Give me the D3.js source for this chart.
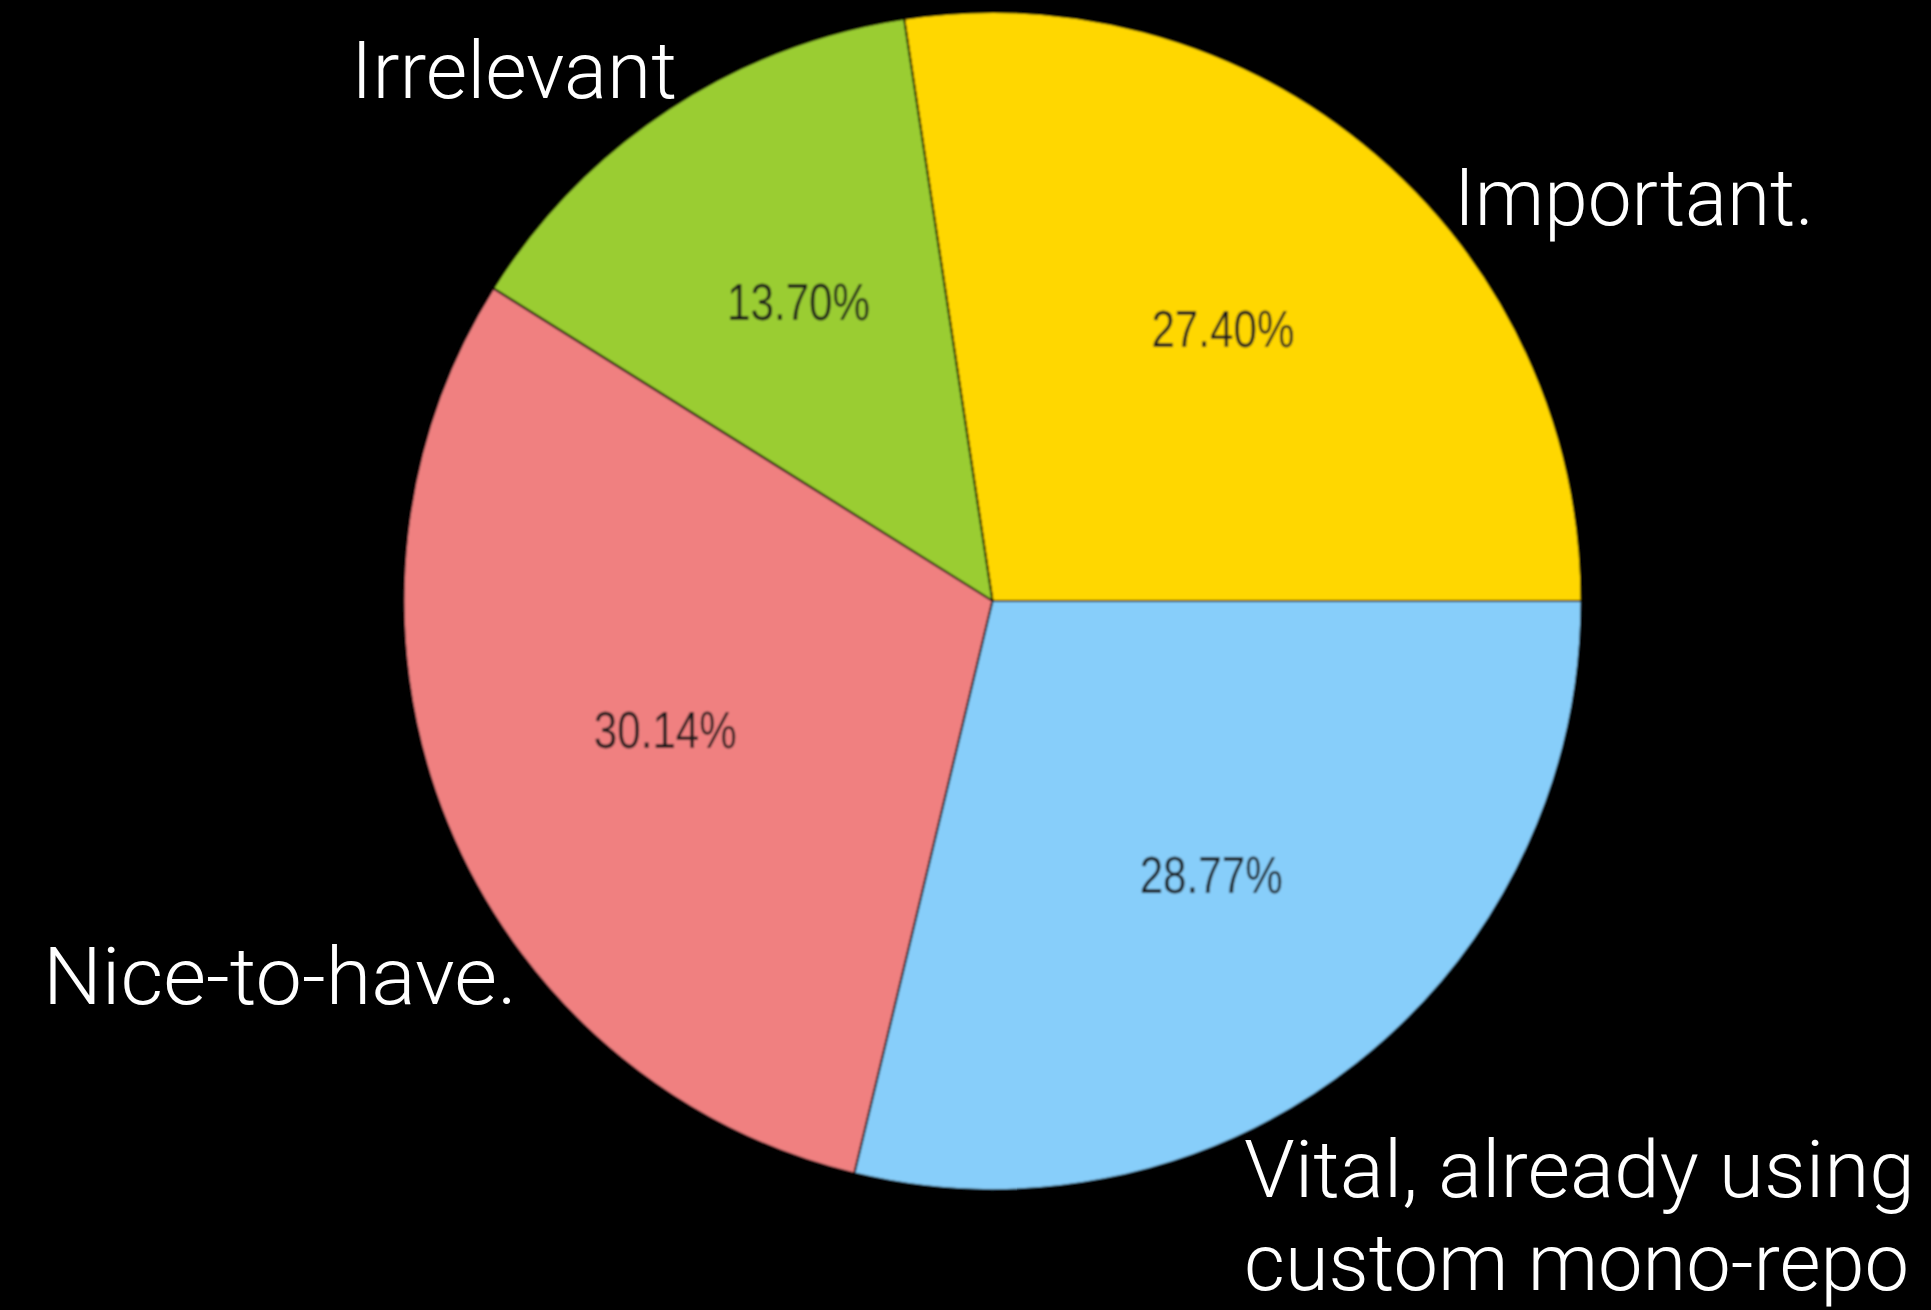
<!DOCTYPE html>
<html>
<head>
<meta charset="utf-8">
<script src="https://cdn.jsdelivr.net/npm/d3@7"></script>
<style>
  html, body { margin: 0; padding: 0; background: #000; }
  svg { display: block; }
</style>
</head>
<body>
<script>
// Survey answers: how much does a mono-repo matter?
const categories = ["Important.", "Irrelevant", "Nice-to-have.", "Vital, already using custom mono-repo"];
const counts = [20, 10, 22, 21];
const sliceColors = ["#FFD700", "#9ACD32", "#F08080", "#87CEFA"];

// Category captions, one entry per line, placed around the pie
const captionLines = [
  ["Important."],
  ["Irrelevant"],
  ["Nice-to-have."],
  ["Vital, already using", "custom mono-repo"]
];

const W = 1931, H = 1310;
const cx = 992.5, cy = 601, R = 589;

// caption anchors (left x, first baseline, line widths)
const captionLayout = [
  { x: 1454, y: 225, widths: [360] },
  { x: 351,  y: 98,  widths: [326] },
  { x: 43,   y: 1004, widths: [474] },
  { x: 1244, y: 1197, widths: [671, 665] }
];

const svg = d3.select("body").append("svg")
  .attr("width", W).attr("height", H)
  .style("background", "#000");

const defs = svg.append("defs");
defs.append("filter").attr("id", "soft")
  .attr("x", "-5%").attr("y", "-5%").attr("width", "110%").attr("height", "110%")
  .append("feGaussianBlur").attr("stdDeviation", 0.9);

const total = d3.sum(counts);

// wedges start at 3 o'clock and run counter-clockwise
const pie = d3.pie().sort(null)
  .startAngle(Math.PI / 2)
  .endAngle(Math.PI / 2 - 2 * Math.PI);

const arcs = pie(counts);
const arc = d3.arc().innerRadius(0).outerRadius(R);
const pctArc = d3.arc().innerRadius(R * 0.6).outerRadius(R * 0.6);

const g = svg.append("g")
  .attr("transform", `translate(${cx},${cy})`)
  .attr("filter", "url(#soft)");

g.selectAll("path.slice").data(arcs).join("path")
  .attr("class", "slice")
  .attr("d", arc)
  .attr("fill", (d, i) => sliceColors[i])
  .attr("stroke", "#000")
  .attr("stroke-width", 2)
  .attr("stroke-linejoin", "round");

const fmt = v => (100 * v / total).toFixed(2) + "%";

g.selectAll("text.pct").data(arcs).join("text")
  .attr("class", "pct")
  .attr("x", d => pctArc.centroid(d)[0])
  .attr("y", d => pctArc.centroid(d)[1] + 14)
  .attr("text-anchor", "middle")
  .attr("font-family", "'Liberation Sans', Arial, Helvetica, sans-serif")
  .attr("font-size", 51)
  .attr("textLength", 143)
  .attr("lengthAdjust", "spacingAndGlyphs")
  .attr("fill", "#1c1c1c")
  .text(d => fmt(d.value));

// category captions
const cap = svg.append("g")
  .attr("font-family", "Roboto, 'Open Sans', Lato, 'Liberation Sans', sans-serif")
  .attr("font-weight", 300)
  .attr("font-size", 80)
  .attr("fill", "#fff");

captionLines.forEach((lines, i) => {
  const L = captionLayout[i];
  const t = cap.append("text").attr("x", L.x).attr("y", L.y);
  lines.forEach((line, j) => {
    t.append("tspan")
      .attr("x", L.x)
      .attr("y", L.y + j * 93)
      .attr("textLength", L.widths[j])
      .attr("lengthAdjust", "spacingAndGlyphs")
      .text(line);
  });
});
</script>
</body>
</html>
